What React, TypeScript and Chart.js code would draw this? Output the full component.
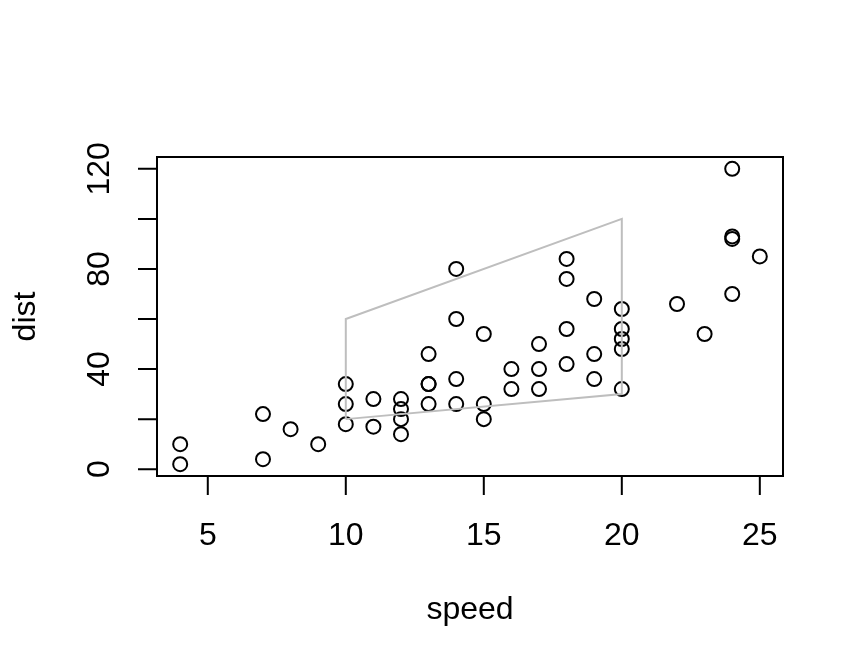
import React, { useEffect, useRef } from "react";
import { Chart, registerables } from "chart.js";

Chart.register(...registerables);

// Stopping distance vs. speed (cars data)
const speed = [4, 4, 7, 7, 8, 9, 10, 10, 10, 11, 11, 12, 12, 12, 12, 13, 13, 13, 13, 14, 14, 14, 14, 15, 15, 15, 16, 16, 17, 17, 17, 18, 18, 18, 18, 19, 19, 19, 20, 20, 20, 20, 20, 22, 23, 24, 24, 24, 24, 25];
const dist = [2, 10, 4, 22, 16, 10, 18, 26, 34, 17, 28, 14, 20, 24, 28, 26, 34, 34, 46, 26, 36, 60, 80, 20, 26, 54, 32, 40, 32, 40, 50, 42, 56, 76, 84, 36, 46, 68, 32, 48, 52, 56, 64, 66, 54, 70, 92, 93, 120, 85];

// Outline polygon (closed)
const polyX = [10, 20, 20, 10, 10];
const polyY = [20, 30, 100, 60, 20];

// Axis ticks and labels
const xTicks = [5, 10, 15, 20, 25];
const yTicks = [0, 20, 40, 60, 80, 100, 120];
const yTickLabels = [0, 40, 80, 120];
const xTitle = "speed";
const yTitle = "dist";

// Axis ranges padded 4% beyond the data range
const xMin = 3.16, xMax = 25.84;
const yMin = -2.72, yMax = 124.72;

const FONT = '32px "Liberation Sans", Arial, Helvetica, sans-serif';
const TICK_LEN = 19;

const basePlot = {
  id: "basePlot",
  afterDatasetsDraw(chart: any) {
    const { ctx, chartArea: a, scales } = chart;
    const xs = scales.x, ys = scales.y;
    ctx.save();
    ctx.strokeStyle = "#000";
    ctx.lineWidth = 2;
    ctx.strokeRect(a.left, a.top, a.right - a.left, a.bottom - a.top);

    // tick marks
    ctx.beginPath();
    for (const v of xTicks) {
      const px = xs.getPixelForValue(v);
      ctx.moveTo(px, a.bottom);
      ctx.lineTo(px, a.bottom + TICK_LEN);
    }
    for (const v of yTicks) {
      const py = ys.getPixelForValue(v);
      ctx.moveTo(a.left, py);
      ctx.lineTo(a.left - TICK_LEN, py);
    }
    ctx.stroke();

    ctx.fillStyle = "#000";
    ctx.font = FONT;
    ctx.textAlign = "center";
    ctx.textBaseline = "alphabetic";
    for (const v of xTicks) {
      ctx.fillText(String(v), xs.getPixelForValue(v), a.bottom + 69);
    }
    for (const v of yTickLabels) {
      ctx.save();
      ctx.translate(a.left - 48, ys.getPixelForValue(v));
      ctx.rotate(-Math.PI / 2);
      ctx.fillText(String(v), 0, 0);
      ctx.restore();
    }

    // axis titles
    ctx.fillText(xTitle, (a.left + a.right) / 2, a.bottom + 143);
    ctx.save();
    ctx.translate(a.left - 122, (a.top + a.bottom) / 2);
    ctx.rotate(-Math.PI / 2);
    ctx.fillText(yTitle, 0, 0);
    ctx.restore();
    ctx.restore();
  },
};

export default function App() {
  const ref = useRef<HTMLCanvasElement>(null);

  useEffect(() => {
    if (!ref.current) return;
    const chart = new Chart(ref.current, {
      type: "scatter",
      data: {
        datasets: [
          {
            data: polyX.map((x, i) => ({ x, y: polyY[i] })),
            showLine: true,
            borderColor: "#BEBEBE",
            borderWidth: 2,
            pointRadius: 0,
            fill: false,
            tension: 0,
          },
          {
            data: speed.map((x, i) => ({ x, y: dist[i] })),
            pointStyle: "circle",
            pointRadius: 7,
            pointBorderWidth: 2,
            pointBorderColor: "#000",
            pointBackgroundColor: "rgba(0,0,0,0)",
            showLine: false,
          },
        ],
      },
      options: {
        responsive: false,
        animation: false,
        devicePixelRatio: 1,
        layout: { padding: { left: 157, top: 157, right: 81, bottom: 196 } },
        plugins: { legend: { display: false }, tooltip: { enabled: false } },
        scales: {
          x: { type: "linear", min: xMin, max: xMax, display: false },
          y: { type: "linear", min: yMin, max: yMax, display: false },
        },
      },
      plugins: [basePlot],
    });
    return () => chart.destroy();
  }, []);

  return (
    <div style={{ position: "fixed", left: 0, top: 0, width: 864, height: 672, background: "#fff" }}>
      <canvas ref={ref} width={864} height={672} />
    </div>
  );
}
